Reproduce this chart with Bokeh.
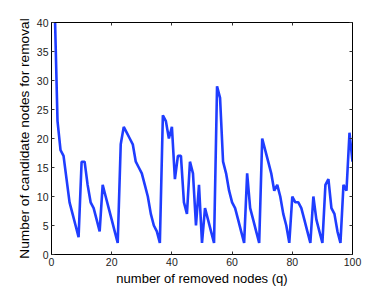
from bokeh.plotting import figure
from bokeh.models import Range1d, LinearAxis, FixedTicker
from bokeh.embed import file_html
from bokeh.resources import INLINE

q = list(range(1, 101))
candidates = [44, 23, 18, 17, 13, 9, 7, 5, 3, 16,
              16, 12, 9, 8, 6, 4, 12, 10, 8, 6,
              4, 2, 19, 22, 21, 20, 19, 16, 15, 14,
              12, 10, 7, 5, 4, 2, 24, 23, 20, 22,
              13, 17, 17, 9, 7, 16, 14, 5, 12, 2,
              8, 6, 4, 2, 29, 27, 16, 14, 11, 9,
              8, 6, 4, 2, 14, 8, 6, 4, 2, 20,
              18, 16, 14, 11, 12, 10, 7, 5, 2, 10,
              9, 9, 8, 6, 4, 2, 10, 6, 4, 2,
              12, 13, 8, 7, 4, 2, 12, 11, 21, 16]
x_ticks = [0, 20, 40, 60, 80, 100]
y_ticks = [0, 5, 10, 15, 20, 25, 30, 35, 40]
x_label = "number of removed nodes (q)"
y_label = "Number of candidate nodes for removal"

FONT = "Liberation Sans"

p = figure(width=388, height=288, output_backend="svg", toolbar_location=None,
           x_range=Range1d(0, 100), y_range=Range1d(0, 40),
           min_border_left=51, min_border_right=36, min_border_top=22, min_border_bottom=32)
p.outline_line_color = "black"
p.outline_line_width = 1
p.xgrid.visible = False
p.ygrid.visible = False
p.background_fill_color = "white"
p.border_fill_color = "white"

p.line(q, candidates, line_color="#1f3dff", line_width=2.6)

def style(ax, ticks, labels=True):
    ax.ticker = FixedTicker(ticks=ticks)
    ax.major_tick_in = 3
    ax.major_tick_out = 0
    ax.minor_tick_in = 0
    ax.minor_tick_out = 0
    ax.axis_line_color = "black"
    ax.major_tick_line_color = "#333333"
    ax.major_label_text_font = FONT
    ax.major_label_text_font_size = "10.5px"
    ax.major_label_text_color = "#222222"
    ax.axis_label_text_font = FONT
    ax.axis_label_text_font_style = "normal"
    ax.axis_label_text_font_size = "13.5px"
    ax.axis_label_text_color = "black"
    if not labels:
        ax.major_label_overrides = {t: "" for t in ticks}
        ax.major_label_standoff = 0

style(p.xaxis[0], x_ticks)
style(p.yaxis[0], y_ticks)
p.xaxis[0].axis_label = x_label
p.yaxis[0].axis_label = y_label
p.xaxis[0].axis_label_text_font_size = "13px"
p.yaxis[0].axis_label_text_font_size = "13.7px"
p.xaxis[0].major_label_standoff = 3
p.xaxis[0].axis_label_standoff = 2
p.yaxis[0].major_label_standoff = 3
p.yaxis[0].axis_label_standoff = 2

top = LinearAxis()
style(top, x_ticks, labels=False)
p.add_layout(top, "above")
right = LinearAxis()
style(right, y_ticks, labels=False)
p.add_layout(right, "right")

open("out.html", "w").write(file_html(p, INLINE))
